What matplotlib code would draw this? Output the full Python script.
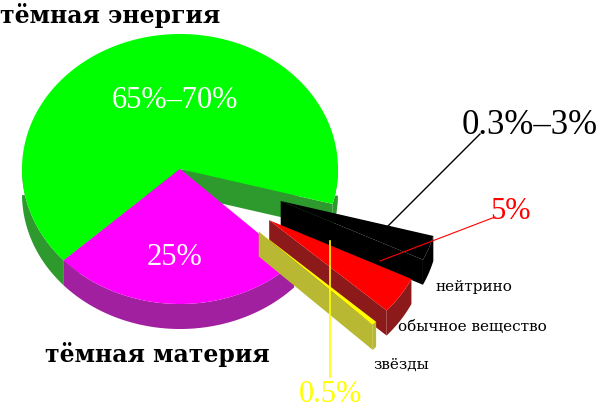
import numpy as np
import matplotlib
matplotlib.use("Agg")
import matplotlib.pyplot as plt
from matplotlib.patches import Polygon

names = ["тёмная энергия", "тёмная материя", "звёзды", "обычное вещество", "нейтрино"]
values = [66.0, 26.0, 0.5, 4.5, 3.0]
top_colors = ["#00ff00", "#ff00ff", "#ffff00", "#ff0000", "#000000"]
side_colors = ["#2e9a2e", "#a020a0", "#b8b832", "#8c1a1a", "#000000"]
explode = [0.0, 0.0, 0.68, 0.68, 0.68]
labels = ["65%–70%", "25%", "0.5%", "5%", "0.3%–3%"]

cx, cy, rx, ry, depth = 180, 170, 158, 135, 25
start_angle = 345.0  # degrees, slices run counterclockwise

fig = plt.figure(figsize=(6, 4.1), dpi=100)
ax = fig.add_axes([0, 0, 1, 1])
ax.set_xlim(0, 600)
ax.set_ylim(410, 0)
ax.axis("off")

def pt(a, r, ox, oy, z=0):
    return (ox + rx * r * np.cos(a), oy - ry * r * np.sin(a) + z)

angles = []
a = start_angle
for v in values:
    span = v / sum(values) * 360
    angles.append((np.radians(a), np.radians(a + span)))
    a += span

def draw_slice(i):
    a0, a1 = angles[i]
    mid = (a0 + a1) / 2
    ox = cx + rx * explode[i] * np.cos(mid)
    oy = cy - ry * explode[i] * np.sin(mid)
    ts = np.linspace(a0, a1, 300)
    vis = ts[np.sin(ts) < 0]
    if len(vis) > 1:
        top = [pt(t, 1, ox, oy) for t in vis]
        bot = [pt(t, 1, ox, oy, depth) for t in vis[::-1]]
        ax.add_patch(Polygon(top + bot, closed=True, fc=side_colors[i], ec="none"))
    for ae, normal in ((a0, a0 - np.pi / 2), (a1, a1 + np.pi / 2)):
        if np.sin(normal) < 0:
            poly = [pt(0, 0, ox, oy), pt(ae, 1, ox, oy), pt(ae, 1, ox, oy, depth), pt(0, 0, ox, oy, depth)]
            ax.add_patch(Polygon(poly, closed=True, fc=side_colors[i], ec="none"))
    topface = [pt(0, 0, ox, oy)] + [pt(t, 1, ox, oy) for t in ts]
    ax.add_patch(Polygon(topface, closed=True, fc=top_colors[i], ec="none"))

for i in [0, 1, 4, 3, 2]:
    draw_slice(i)

serif = ["DejaVu Serif"]
ax.text(0, 15, names[0], fontsize=17, fontweight="bold", family=serif, va="center", ha="left")
ax.text(45, 355, names[1], fontsize=17, fontweight="bold", family=serif, va="center", ha="left")
ax.text(175, 100, labels[0], fontsize=22, color="white", family=["Liberation Serif"], ha="center", va="center")
ax.text(175, 258, labels[1], fontsize=22, color="white", family=["Liberation Serif"], ha="center", va="center")

ax.plot([378, 480], [237, 135], color="black", lw=1)
ax.text(530, 125, labels[4], fontsize=25, family=["Liberation Serif"], ha="center", va="center")
ax.plot([380, 495], [262, 218], color="red", lw=0.8)
ax.text(510, 212, labels[3], fontsize=22, color="red", family=["Liberation Serif"], ha="center", va="center")
ax.plot([330, 330], [242, 378], color="yellow", lw=1.2)
ax.text(330, 395, labels[2], fontsize=22, color="yellow", family=["Liberation Serif"], ha="center", va="center")

ax.text(435, 287, names[4], fontsize=11, family=serif, ha="left", va="center")
ax.text(398, 327, names[3], fontsize=11, family=serif, ha="left", va="center")
ax.text(373, 365, names[2], fontsize=11, family=serif, ha="left", va="center")

fig.savefig("out.png", dpi=100)
